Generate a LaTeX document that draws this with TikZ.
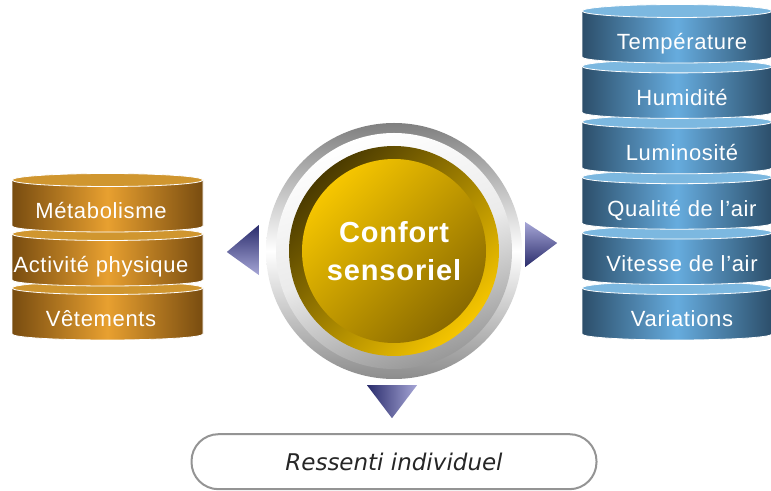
\documentclass[tikz,border=0pt]{standalone}
\usepackage{fontspec}
\setmainfont{Liberation Sans}[LetterSpace=3]
\newfontfamily\pillfont{DejaVu Sans}
\usepackage{xcolor}
\usepackage{tikz}
\usetikzlibrary{positioning,calc}

\definecolor{ldark}{HTML}{784C10}
\definecolor{lmid}{HTML}{E8A030}
\definecolor{lcap}{HTML}{D0962F}
\definecolor{rdark}{HTML}{2C4E6A}
\definecolor{rmid}{HTML}{66ACDE}
\definecolor{rcap}{HTML}{7CB8E0}
\definecolor{golddark}{HTML}{4A3A00}
\definecolor{goldlite}{HTML}{F6C600}
\definecolor{goldmid}{HTML}{8A6A00}
\definecolor{navy}{HTML}{2A2C6C}
\definecolor{lav}{HTML}{A6A6D6}

\begin{document}
\begin{tikzpicture}[x=1pt,y=1pt,node distance=54pt,
  ldisc/.style={draw=white,line width=.8pt,left color=ldark,right color=ldark,middle color=lmid},
  lcapfill/.style={draw=white,line width=.8pt,fill=lcap},
  rdisc/.style={draw=white,line width=.8pt,left color=rdark,right color=rdark,middle color=rmid},
  rcapfill/.style={draw=white,line width=.8pt,fill=rcap},
  disctext/.style={text=white,inner sep=0pt,font=\fontsize{22}{26}\selectfont,text height=16pt,text depth=0pt},
  centre/.style={circle,minimum size=256pt,inner sep=0pt,align=center,text=white,font=\bfseries\fontsize{29}{38}\selectfont},
  pill/.style={draw=black!42,line width=2pt,rounded corners=27pt,minimum width=405pt,minimum height=55pt,fill=white,text=black!85,font=\pillfont\itshape\fontsize{23}{27}\selectfont}]
  \useasboundingbox (0,0) rectangle (771,490);

  % pile de gauche
  \foreach \i/\txt in {3/Vêtements,2/{Activité physique},1/Métabolisme}{
    \pgfmathsetmacro\yb{490-232-54*(\i-1)}
    \shade[ldisc] (12,\yb+52) -- (12,\yb+6) arc[start angle=180,end angle=360,x radius=95.5,y radius=6] -- (203,\yb+52) -- cycle;
    \filldraw[lcapfill] (107.5,\yb+52) ellipse[x radius=95.5,y radius=6.5];
    \node[disctext] (l\i) at (101,\yb+21) {\txt};
  }

  % pile de droite
  \foreach \i/\txt in {6/Variations,5/Vitesse de l'air,4/Qualité de l'air,3/Luminosité,2/Humidité,1/Température}{
    \pgfmathsetmacro\yb{490-63-55.4*(\i-1)}
    \shade[rdisc] (582,\yb+52) -- (582,\yb+6) arc[start angle=180,end angle=360,x radius=95,y radius=6] -- (772,\yb+52) -- cycle;
    \filldraw[rcapfill] (677,\yb+52) ellipse[x radius=95,y radius=6.5];
    \node[disctext] (r\i) at (682,\yb+21) {\txt};
  }

  % bouton central
  \coordinate (c) at (394,239);
  \shade[top color=black!50,bottom color=black!45,middle color=white] (c) circle[radius=128];
  \shade[top color=white,bottom color=black!40,middle color=black!8,shading angle=20] (c) circle[radius=118];
  \shade[top color=golddark,bottom color=goldlite,shading angle=45] (c) circle[radius=105];
  \shade[top color=goldlite,bottom color=goldmid,shading angle=45] (c) circle[radius=92];
  \node[centre] (cs) at (c) {Confort\\sensoriel};

  % triangles
  \shade[top color=navy,bottom color=lav] ($(cs.west)+(-39,-1)$) -- ($(cs.west)+(-7,26)$) -- ($(cs.west)+(-7,-24)$) -- cycle;
  \shade[top color=lav,bottom color=navy] ($(cs.east)+(35,8)$) -- ($(cs.east)+(3,29)$) -- ($(cs.east)+(3,-16)$) -- cycle;
  \shade[left color=navy,right color=lav] ($(cs.south)+(-2,-39)$) -- ($(cs.south)+(-27,-6)$) -- ($(cs.south)+(23,-6)$) -- cycle;

  \node[pill,below=54pt of cs] (ri) {Ressenti individuel};
\end{tikzpicture}
\end{document}
